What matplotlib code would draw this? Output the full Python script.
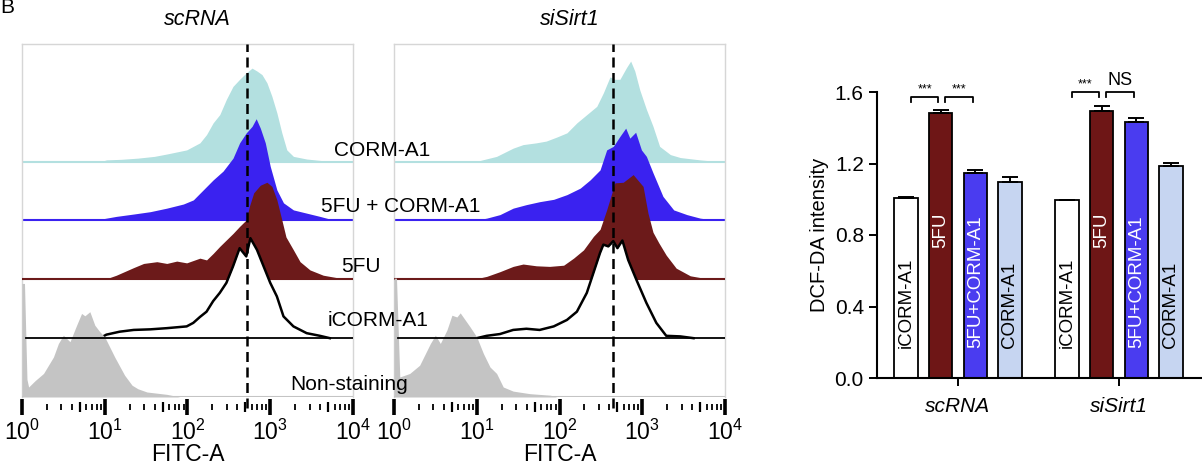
import matplotlib
matplotlib.use("Agg")
import matplotlib.pyplot as plt
import numpy as np

plt.rcParams["font.family"] = ["Liberation Sans", "DejaVu Sans"]
plt.rcParams["mathtext.fontset"] = "custom"
plt.rcParams["mathtext.rm"] = "Liberation Sans"
plt.rcParams["mathtext.it"] = "Liberation Sans:italic"
plt.rcParams["mathtext.default"] = "regular"

# ---- histogram data: log10(FITC-A) positions and heights (offset units) ----
# scRNA
sc_corm_lx = [0.95, 1.02, 1.2, 1.4, 1.6, 1.75, 1.99, 2.15, 2.23, 2.31, 2.39, 2.47, 2.55, 2.63,
              2.71, 2.78, 2.84, 2.90, 2.96, 3.02, 3.08, 3.14, 3.20, 3.28, 3.44, 3.68, 3.8]
sc_corm_h = [0, 0.03, 0.04, 0.06, 0.09, 0.13, 0.2, 0.32, 0.46, 0.66, 0.8, 1.06, 1.28, 1.40,
             1.51, 1.59, 1.54, 1.48, 1.34, 1.11, 0.83, 0.49, 0.2, 0.09, 0.045, 0.01, 0]
sc_5fucorm_lx = [0.9, 0.94, 1.14, 1.35, 1.55, 1.75, 1.95, 2.07, 2.19, 2.31, 2.43, 2.55, 2.63,
                 2.71, 2.78, 2.83, 2.88, 2.94, 3.00, 3.08, 3.16, 3.28, 3.44, 3.60, 3.76, 3.85]
sc_5fucorm_h = [0, 0.02, 0.07, 0.11, 0.15, 0.21, 0.28, 0.35, 0.52, 0.69, 0.84, 1.06, 1.32,
                1.49, 1.60, 1.73, 1.57, 1.32, 0.92, 0.52, 0.30, 0.18, 0.125, 0.07, 0.01, 0]
sc_5fu_lx = [1.0, 1.14, 1.35, 1.47, 1.63, 1.75, 1.87, 1.99, 2.15, 2.23, 2.31, 2.39, 2.47, 2.55,
             2.63, 2.71, 2.75, 2.80, 2.88, 2.96, 3.02, 3.08, 3.14, 3.19, 3.28, 3.36, 3.48,
             3.64, 3.84, 3.95]
sc_5fu_h = [0, 0.07, 0.2, 0.27, 0.30, 0.27, 0.31, 0.28, 0.36, 0.33, 0.44, 0.56, 0.67, 0.78,
            0.9, 1.01, 1.25, 1.47, 1.60, 1.65, 1.58, 1.35, 1.01, 0.72, 0.5, 0.30, 0.16,
            0.07, 0.02, 0]
sc_icorm_lx = [0.94, 1.02, 1.18, 1.35, 1.55, 1.75, 1.99, 2.07, 2.15, 2.23, 2.31, 2.39, 2.47,
               2.55, 2.63, 2.71, 2.76, 2.84, 2.92, 3.00, 3.08, 3.16, 3.28, 3.44, 3.60, 3.72]
sc_icorm_h = [0, 0.06, 0.11, 0.14, 0.15, 0.17, 0.2, 0.26, 0.36, 0.45, 0.63, 0.77, 0.94,
              1.22, 1.53, 1.39, 1.70, 1.5, 1.22, 0.94, 0.71, 0.37, 0.2, 0.085, 0.04, 0]
sc_nonstain_lx = [0.0, 0.03, 0.06, 0.08, 0.16, 0.26, 0.38, 0.44, 0.50, 0.58, 0.66, 0.72, 0.76,
                  0.82, 0.88, 0.94, 1.0, 1.12, 1.24, 1.33, 1.40, 1.51, 1.75, 1.91]
sc_nonstain_h = [1.93, 1.93, 0.3, 0.17, 0.28, 0.4, 0.68, 0.91, 1.05, 0.94, 1.22, 1.42, 1.38,
                 1.45, 1.22, 1.11, 1.02, 0.68, 0.37, 0.2, 0.14, 0.085, 0.045, 0]
# siSirt1
si_corm_lx = [0.96, 1.04, 1.24, 1.44, 1.56, 1.72, 1.84, 1.97, 2.09, 2.21, 2.33, 2.45, 2.53,
              2.61, 2.67, 2.73, 2.81, 2.86, 2.91, 2.97, 3.05, 3.13, 3.21, 3.34, 3.46, 3.70,
              3.86, 3.95]
si_corm_h = [0, 0.02, 0.09, 0.23, 0.29, 0.32, 0.35, 0.42, 0.49, 0.66, 0.80, 0.94, 1.17,
             1.44, 1.40, 1.40, 1.60, 1.71, 1.54, 1.22, 0.89, 0.60, 0.26, 0.12, 0.07, 0.03,
             0.01, 0]
si_5fucorm_lx = [0.96, 1.12, 1.28, 1.44, 1.60, 1.76, 1.93, 2.09, 2.25, 2.37, 2.49, 2.57, 2.65,
                 2.73, 2.80, 2.85, 2.92, 2.99, 3.05, 3.13, 3.25, 3.38, 3.54, 3.70, 3.86, 3.95]
si_5fucorm_h = [0, 0.04, 0.1, 0.21, 0.27, 0.32, 0.36, 0.44, 0.55, 0.69, 0.86, 1.2, 1.26,
                1.43, 1.57, 1.40, 1.50, 1.20, 1.09, 0.81, 0.41, 0.18, 0.10, 0.04, 0.01, 0]
si_5fu_lx = [0.96, 1.12, 1.28, 1.44, 1.56, 1.72, 1.88, 2.05, 2.17, 2.29, 2.41, 2.49, 2.57,
             2.67, 2.77, 2.89, 3.01, 3.07, 3.13, 3.20, 3.29, 3.41, 3.58, 3.74, 3.85]
si_5fu_h = [0, 0.05, 0.13, 0.22, 0.26, 0.23, 0.22, 0.24, 0.36, 0.5, 0.73, 0.85, 1.18,
            1.64, 1.65, 1.78, 1.58, 1.12, 0.8, 0.62, 0.41, 0.19, 0.06, 0.02, 0]
si_icorm_lx = [1.0, 1.12, 1.28, 1.44, 1.60, 1.76, 1.93, 2.09, 2.21, 2.33, 2.41, 2.49, 2.53,
               2.59, 2.65, 2.70, 2.76, 2.83, 2.93, 3.05, 3.17, 3.29, 3.46, 3.62]
si_icorm_h = [0, 0.04, 0.07, 0.14, 0.16, 0.14, 0.2, 0.31, 0.45, 0.77, 1.11, 1.45, 1.59,
              1.56, 1.65, 1.53, 1.66, 1.33, 0.99, 0.6, 0.26, 0.04, 0.03, 0]
si_nonstain_lx = [0.0, 0.03, 0.07, 0.19, 0.31, 0.44, 0.50, 0.56, 0.64, 0.70, 0.76, 0.80,
                  0.86, 0.92, 1.0, 1.08, 1.16, 1.24, 1.32, 1.44, 1.64, 1.89, 1.97]
si_nonstain_h = [2.02, 2.02, 0.34, 0.40, 0.54, 0.91, 1.05, 0.91, 1.14, 1.39, 1.36, 1.43,
                 1.31, 1.19, 1.02, 0.74, 0.51, 0.40, 0.17, 0.1, 0.057, 0.03, 0]

hist_names = ["CORM-A1", "5FU + CORM-A1", "5FU", "iCORM-A1", "Non-staining"]
hist_colors = ["#b3e0e0", "#3a22f0", "#6c1a1a", "white", "#c4c4c4"]
gates = [519, 447]
panel_titles = ["scRNA", "siSirt1"]

# ---- bar chart data ----
groups = ["scRNA", "siSirt1"]
treatments = ["iCORM-A1", "5FU", "5FU+CORM-A1", "CORM-A1"]
means_sc = [1.005, 1.485, 1.145, 1.095]
err_sc = [0.005, 0.012, 0.02, 0.028]
means_si = [0.997, 1.492, 1.432, 1.188]
err_si = [0.0, 0.032, 0.022, 0.016]
bar_colors = ["white", "#6e1616", "#4a3cf0", "#c6d5f1"]
label_colors = ["black", "white", "white", "black"]
sig_pairs = [(0, 0, 1, "***"), (0, 1, 2, "***"), (1, 0, 1, "***"), (1, 1, 2, "NS")]
sig_level = [1.574, 1.602]

W, H = 1202, 467
fig = plt.figure(figsize=(W / 100, H / 100), dpi=100)


def px_axes(x0, y0, x1, y1):
    return fig.add_axes([x0 / W, 1 - y1 / H, (x1 - x0) / W, (y1 - y0) / H])


def draw_hist(ax, curves, gate, title):
    bases = [4, 3, 2, 1, 0]
    for i, (lx, h) in enumerate(curves):
        x = 10 ** np.array(lx)
        y = bases[i] + np.array(h)
        if hist_colors[i] == "white":
            ax.fill_between(x, bases[i], y, color="white", lw=0, zorder=i + 1)
            ax.plot(x, y, color="black", lw=1.8, zorder=i + 1.5)
            ax.axhline(bases[i], xmin=0.012, color="black", lw=1.3, zorder=8)
        else:
            ax.fill_between(x, bases[i], y, color=hist_colors[i], lw=0, zorder=i + 1)
            ax.axhline(bases[i], color=hist_colors[i], lw=1.5, zorder=i + 1)
    ax.axvline(gate, ymin=-0.03, ymax=1, color="black", lw=1.8, dashes=(4, 2.2),
               zorder=10, clip_on=False)
    ax.set_xscale("log")
    ax.set_xlim(1, 1e4)
    ax.set_ylim(0, 6.0)
    ax.set_yticks([])
    for s in ["top", "left", "right"]:
        ax.spines[s].set_color("#d6d6d6")
        ax.spines[s].set_linewidth(1.0)
    ax.spines["bottom"].set_position(("outward", 7.5))
    ax.spines["bottom"].set_visible(False)
    decades = [1, 10, 100, 1000, 10000]
    fives = [5, 50, 500, 5000]
    majors = decades + fives
    labels = ["$10^{%d}$" % k for k in range(5)] + [""] * 4
    ax.set_xticks(majors, labels)
    minors = [m * d for d in decades[:-1] for m in [2, 3, 4, 6, 7, 8, 9]]
    ax.set_xticks(minors, minor=True)
    ax.tick_params(axis="x", which="major", direction="inout", length=11, width=2.6,
                   labelsize=16.5, pad=3)
    ax.tick_params(axis="x", which="minor", direction="inout", length=4.5, width=1.3)
    for t in ax.xaxis.get_major_ticks()[5:]:
        t.tick1line.set_markersize(7)
        t.tick1line.set_markeredgewidth(1.6)
    ax.set_xlabel("FITC-A", fontsize=16.5, labelpad=-1)
    ax.text(0.53, 1.04, title, transform=ax.transAxes, ha="center", va="bottom",
            fontsize=15.5, style="italic")


ax1 = px_axes(22, 44, 353, 397)
draw_hist(ax1, [(sc_corm_lx, sc_corm_h), (sc_5fucorm_lx, sc_5fucorm_h), (sc_5fu_lx, sc_5fu_h),
                (sc_icorm_lx, sc_icorm_h), (sc_nonstain_lx, sc_nonstain_h)],
          gates[0], panel_titles[0])
ax2 = px_axes(394, 44, 725, 397)
draw_hist(ax2, [(si_corm_lx, si_corm_h), (si_5fucorm_lx, si_5fucorm_h), (si_5fu_lx, si_5fu_h),
                (si_icorm_lx, si_icorm_h), (si_nonstain_lx, si_nonstain_h)],
          gates[1], panel_titles[1])

# sample labels between the two histogram panels
label_pos = [(334, 151), (321, 206), (341, 266), (328, 321), (290, 384)]
for name, (lx, ly) in zip(hist_names, label_pos):
    fig.text(lx / W, 1 - ly / H, name, ha="left", va="center", fontsize=15, zorder=20)

fig.text(0.0, 1 - 13 / H, "B", ha="left", va="baseline", fontsize=15)

# ---- bar chart ----
ax3 = px_axes(877, 92, 1202, 378)
gx = np.arange(len(groups))
offs = (np.arange(len(treatments)) - 1.5) * 0.215
bw = 0.145
all_means = [means_sc, means_si]
all_errs = [err_sc, err_si]
label_bottom = [0.17, 0.73, 0.17, 0.17]
for g in range(len(groups)):
    xs = gx[g] + offs
    ax3.bar(xs, all_means[g], width=bw, color=bar_colors, edgecolor="black", lw=1.3, zorder=2)
    ax3.errorbar(xs, all_means[g], yerr=[np.zeros(4), all_errs[g]], fmt="none",
                 ecolor="black", elinewidth=1.4, capsize=5.5, capthick=1.4, zorder=3)
    for i, t in enumerate(treatments):
        ax3.text(xs[i], label_bottom[i], t, rotation=90, ha="center", va="bottom",
                 fontsize=13.5, color=label_colors[i], zorder=4)

for g, i, j, txt in sig_pairs:
    x1 = gx[g] + offs[i] + 0.03
    x2 = gx[g] + offs[j] - 0.015
    y = sig_level[g]
    ax3.plot([x1, x1, x2, x2], [y - 0.028, y, y, y - 0.028], color="black", lw=1.3,
             clip_on=False)
    if txt == "NS":
        ax3.text((x1 + x2) / 2, y + 0.012, txt, ha="center", va="bottom", fontsize=13)
    else:
        ax3.text((x1 + x2) / 2, y + 0.008, txt, ha="center", va="bottom", fontsize=9)

ax3.set_xlim(-0.503, 1.516)
ax3.set_ylim(0, 1.6)
ax3.set_yticks([0, 0.4, 0.8, 1.2, 1.6], ["0.0", "0.4", "0.8", "1.2", "1.6"])
ax3.set_xticks(gx, groups, style="italic")
ax3.tick_params(axis="both", labelsize=15, width=1.4, length=6)
ax3.tick_params(axis="x", pad=8)
ax3.spines["top"].set_visible(False)
ax3.spines["right"].set_visible(False)
ax3.spines["left"].set_linewidth(1.5)
ax3.spines["bottom"].set_linewidth(1.5)
ax3.set_ylabel("DCF-DA intensity", fontsize=14.5, labelpad=4)

fig.savefig("out.png", dpi=100)
